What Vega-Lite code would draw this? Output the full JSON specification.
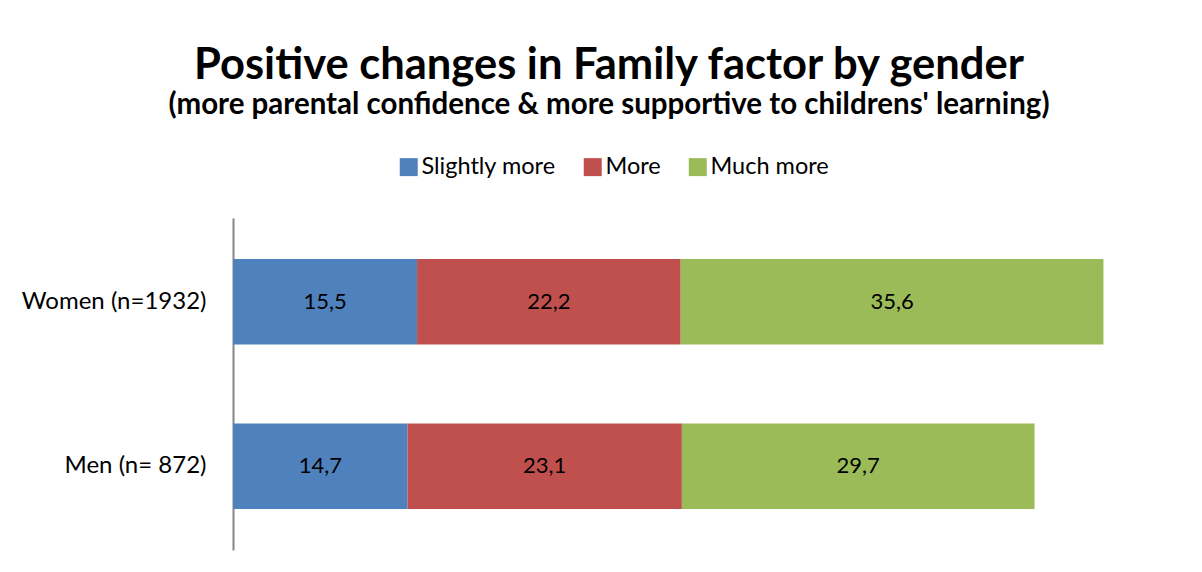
{
  "$schema": "https://vega.github.io/schema/vega-lite/v6.json",
  "width": 950,
  "height": 332,
  "autosize": {"type": "none"},
  "padding": {"left": 233, "top": 218, "right": 19, "bottom": 22},
  "background": "white",
  "title": {
    "text": "Positive changes in Family factor by gender",
    "subtitle": "(more parental confidence & more supportive to childrens' learning)",
    "anchor": "middle",
    "frame": "group",
    "dx": -99,
    "offset": 35,
    "font": "Lato",
    "fontSize": 43.5,
    "fontWeight": "bold",
    "color": "black",
    "subtitleFont": "Lato",
    "subtitleFontSize": 29.5,
    "subtitleFontWeight": "bold",
    "subtitleColor": "black",
    "subtitlePadding": 2
  },
  "data": {
    "values": [
      {"gender": "Women (n=1932)", "category": "Slightly more", "value": 15.5, "ord": 1},
      {"gender": "Women (n=1932)", "category": "More", "value": 22.2, "ord": 2},
      {"gender": "Women (n=1932)", "category": "Much more", "value": 35.6, "ord": 3},
      {"gender": "Men (n= 872)", "category": "Slightly more", "value": 14.7, "ord": 1},
      {"gender": "Men (n= 872)", "category": "More", "value": 23.1, "ord": 2},
      {"gender": "Men (n= 872)", "category": "Much more", "value": 29.7, "ord": 3}
    ]
  },
  "transform": [
    {"stack": "value", "groupby": ["gender"], "sort": [{"field": "ord", "order": "ascending"}], "as": ["v0", "v1"]}
  ],
  "encoding": {
    "y": {
      "field": "gender",
      "type": "nominal",
      "sort": ["Women (n=1932)", "Men (n= 872)"],
      "scale": {"paddingInner": 0.48, "paddingOuter": 0.25},
      "axis": {
        "title": null,
        "domainColor": "#868686",
        "domainWidth": 2,
        "ticks": false,
        "grid": false,
        "labelFont": "Lato",
        "labelFontSize": 24,
        "labelColor": "black",
        "labelPadding": 27,
        "labelLimit": 400
      }
    }
  },
  "layer": [
    {
      "mark": {"type": "bar"},
      "encoding": {
        "x": {"field": "v0", "type": "quantitative", "scale": {"domain": [0, 80], "nice": false, "zero": true}, "axis": null},
        "x2": {"field": "v1"},
        "color": {
          "field": "category",
          "type": "nominal",
          "scale": {"domain": ["Slightly more", "More", "Much more"], "range": ["#4F81BD", "#C0504D", "#9BBB59"]},
          "legend": {
            "orient": "none",
            "legendX": 164,
            "legendY": -63,
            "direction": "horizontal",
            "title": null,
            "symbolType": "square",
            "symbolSize": 324,
            "symbolStrokeWidth": 0,
            "symbolOpacity": 1,
            "labelFont": "Lato",
            "labelFontSize": 23.5,
            "labelColor": "black",
            "labelOffset": 1,
            "columnPadding": 25
          }
        }
      }
    },
    {
      "transform": [
        {"fold": ["v0", "v1"], "as": ["edge", "pos"]}
      ],
      "mark": {"type": "text", "font": "Lato", "fontSize": 22, "color": "black", "align": "center", "baseline": "middle"},
      "encoding": {
        "x": {"aggregate": "mean", "field": "pos", "type": "quantitative"},
        "detail": {"field": "category"},
        "text": {"aggregate": "max", "field": "value", "type": "quantitative", "format": ".1f"}
      }
    }
  ],
  "config": {
    "view": {"stroke": null},
    "locale": {"number": {"decimal": ",", "thousands": ".", "grouping": [3], "currency": ["", " €"]}}
  }
}
